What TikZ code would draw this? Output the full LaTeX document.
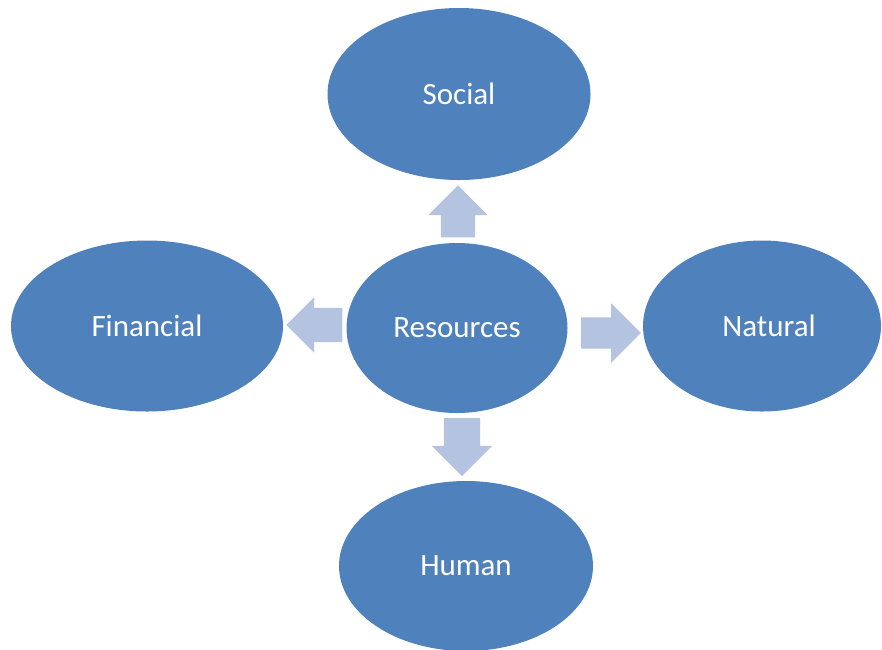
\documentclass[tikz,border=0pt]{standalone}
\usepackage{fontspec}
\setmainfont{Carlito}
\usetikzlibrary{shapes.geometric,shapes.arrows}
\definecolor{capblue}{HTML}{4F81BD}
\definecolor{arrowblue}{HTML}{B3C3E0}
\tikzset{
  capital/.style={ellipse, fill=capblue, text=white, inner sep=0pt,
    font=\fontsize{31}{37}\selectfont},
  flow/.style={single arrow, fill=arrowblue, inner xsep=0pt, inner ysep=17pt,
    minimum height=56pt, single arrow head extend=12pt},
  upright/.style={inner ysep=0pt, inner xsep=#1}
}
\begin{document}
\begin{tikzpicture}[x=1pt,y=-1pt]
	\clip (0,0) rectangle (882,649);
	% the five resources
	\node[capital, minimum width=221pt, minimum height=170pt] (res) at (457,328) {Resources};
	\node[capital, minimum width=263pt, minimum height=172pt] (soc) at (459,94) {Social};
	\node[capital, minimum width=272pt, minimum height=171pt] (fin) at (147,326) {Financial};
	\node[capital, minimum width=238pt, minimum height=171pt] (nat) at (762,326) {\hspace*{14pt}Natural};
	\node[capital, minimum width=254pt, minimum height=170pt] (hum) at (466,566) {Human};
	% block arrows out of the middle
	\node[flow, upright=17pt, shape border rotate=90, minimum height=52pt, single arrow head extend=12.5pt] (tosoc) at (458,220) {};
	\node[flow, shape border rotate=180, single arrow head extend=10.5pt] (tofin) at (323,325) {};
	\node[flow, inner ysep=15.5pt, minimum height=60pt, single arrow head extend=14pt] (tonat) at (603,333) {};
	\node[flow, upright=18pt, shape border rotate=270, minimum height=58pt] (tohum) at (462,438) {};
\end{tikzpicture}
\end{document}
